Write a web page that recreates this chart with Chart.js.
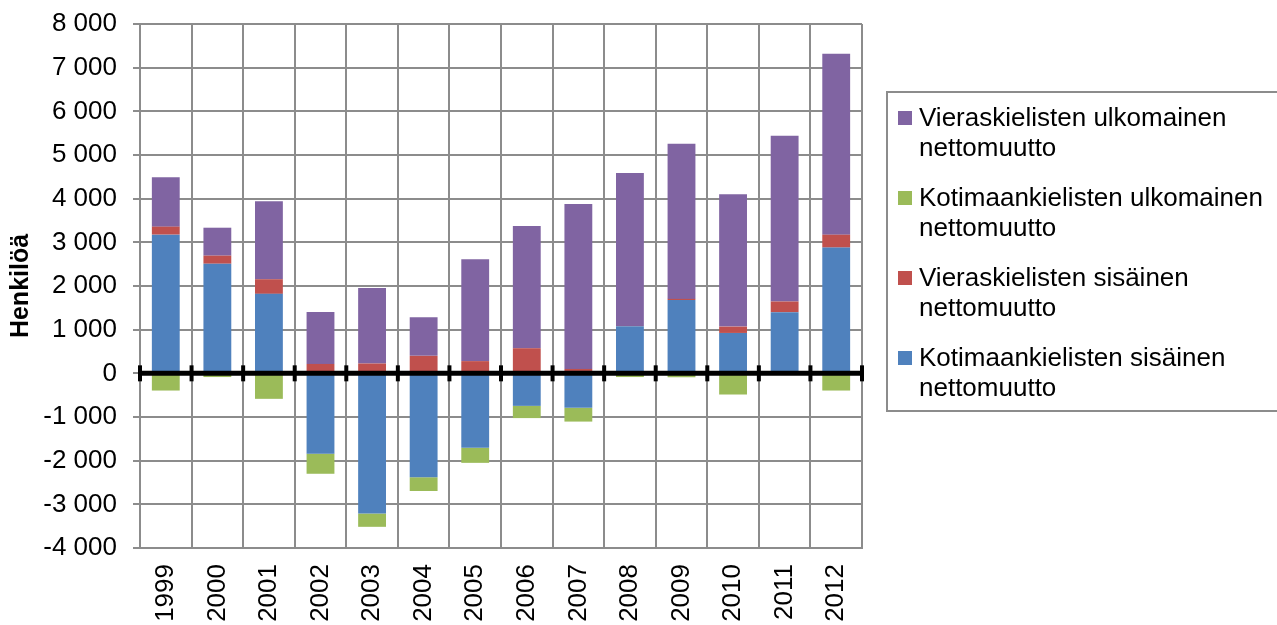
<!DOCTYPE html>
<html>
<head>
<meta charset="utf-8">
<script src="https://cdn.jsdelivr.net/npm/chart.js@4.4.1/dist/chart.umd.min.js"></script>
<style>
  html, body { margin: 0; padding: 0; background: #fff; overflow: hidden; }
  #wrap { position: relative; width: 1277px; height: 625px; }
  #legend {
    position: absolute; left: 886px; top: 91px; width: 420px; height: 321px;
    border: 2px solid #8c8c8c; box-sizing: border-box; padding-top: 9px;
    font-family: "Liberation Sans", Arial, sans-serif; font-size: 26px; line-height: 30px; color: #000;
  }
  .item { position: relative; padding-left: 31px; width: 350px; height: 60px; margin-bottom: 20px; }
  .box { position: absolute; left: 10px; top: 9px; width: 14px; height: 14px; }
</style>
</head>
<body>
<div id="wrap">
  <canvas id="grafico" width="1277" height="625"></canvas>
  <div id="legend"></div>
</div>
<script>
const vuodet = ["1999", "2000", "2001", "2002", "2003", "2004", "2005", "2006", "2007", "2008", "2009", "2010", "2011", "2012"];

// Kotimaankielisten sisäinen nettomuutto
const kotimaanSisainen = [3176, 2510, 1820, -1840, -3210, -2380, -1705, -745, -790, 1080, 1680, 925, 1400, 2880];
// Vieraskielisten sisäinen nettomuutto
const vieraskielSisainen = [183, 185, 335, 215, 225, 400, 280, 575, 100, 5, 25, 145, 245, 295];
// Kotimaankielisten ulkomainen nettomuutto
const kotimaanUlkomainen = [-394, -85, -584, -460, -305, -315, -345, -280, -315, -85, -90, -485, -10, -394];
// Vieraskielisten ulkomainen nettomuutto
const vieraskielUlkomainen = [1131, 640, 1785, 1190, 1730, 885, 2335, 2800, 3780, 3500, 3555, 3030, 3795, 4145];

const fontti = "'Liberation Sans', Arial, sans-serif";

const sarjat = [
    { label: "Kotimaankielisten sisäinen nettomuutto", data: kotimaanSisainen, color: "#4f81bd" },
    { label: "Vieraskielisten sisäinen nettomuutto", data: vieraskielSisainen, color: "#c0504d" },
    { label: "Kotimaankielisten ulkomainen nettomuutto", data: kotimaanUlkomainen, color: "#9bbb59" },
    { label: "Vieraskielisten ulkomainen nettomuutto", data: vieraskielUlkomainen, color: "#8064a2" }
];

function muotoile(v) {
    const s = Math.abs(v).toString().replace(/\B(?=(\d{3})+(?!\d))/g, " ");
    return (v < 0 ? "-" : "") + s;
}

// nollaviiva ja sen ristikkäiset merkit
const nollaAkseli = {
    id: "nollaAkseli",
    afterDatasetsDraw(chart) {
        const { ctx, chartArea, scales } = chart;
        const y0 = scales.y.getPixelForValue(0);
        const x = scales.x;
        ctx.save();
        ctx.strokeStyle = "#000";
        ctx.lineWidth = 5;
        ctx.beginPath();
        ctx.moveTo(chartArea.left, y0);
        ctx.lineTo(chartArea.right, y0);
        ctx.stroke();
        const rajat = [chartArea.left];
        for (let i = 0; i < vuodet.length - 1; i++) {
            rajat.push((x.getPixelForValue(i) + x.getPixelForValue(i + 1)) / 2);
        }
        rajat.push(chartArea.right);
        ctx.lineWidth = 4;
        rajat.forEach(px => {
            ctx.beginPath();
            ctx.moveTo(px, y0 - 8);
            ctx.lineTo(px, y0 + 8);
            ctx.stroke();
        });
        ctx.restore();
    }
};

const ctx = document.getElementById("grafico").getContext("2d");
const chart = new Chart(ctx, {
    type: "bar",
    data: {
        labels: vuodet,
        datasets: sarjat.map(s => ({
            label: s.label,
            data: s.data,
            backgroundColor: s.color,
            barPercentage: 0.54,
            categoryPercentage: 1
        }))
    },
    options: {
        responsive: false,
        animation: false,
        devicePixelRatio: 1,
        layout: { padding: { left: 0, right: 415, top: 0, bottom: 0 } },
        plugins: {
            legend: { display: false },
            tooltip: { enabled: false }
        },
        scales: {
            x: {
                stacked: true,
                grid: { offset: true, color: "#8c8c8c", lineWidth: 2, drawTicks: false },
                border: { color: "#8c8c8c", width: 2 },
                ticks: {
                    minRotation: 90,
                    maxRotation: 90,
                    padding: 16,
                    color: "#000",
                    font: { family: fontti, size: 26 }
                },
                afterFit: s => { s.height = 77; }
            },
            y: {
                stacked: true,
                min: -4000,
                max: 8000,
                grid: { color: "#8c8c8c", lineWidth: 2, tickLength: 7 },
                border: { color: "#8c8c8c", width: 2 },
                ticks: {
                    stepSize: 1000,
                    padding: 16,
                    color: "#000",
                    font: { family: fontti, size: 26 },
                    callback: v => muotoile(v)
                },
                title: {
                    display: true,
                    text: "Henkilöä",
                    color: "#000",
                    padding: { top: 6, bottom: 0 },
                    font: { family: fontti, size: 25, weight: "bold" }
                },
                afterFit: s => {
                    s.width = 140;
                    s.paddingTop = 24;
                    s.paddingBottom = 10;
                }
            }
        }
    },
    plugins: [nollaAkseli]
});

// selite oikealle, käänteisessä järjestyksessä kuten pinossa
const selite = document.getElementById("legend");
[...sarjat].reverse().forEach(s => {
    const d = document.createElement("div");
    d.className = "item";
    d.innerHTML = `<span class="box" style="background:${s.color}"></span>${s.label}`;
    selite.appendChild(d);
});
</script>
</body>
</html>
